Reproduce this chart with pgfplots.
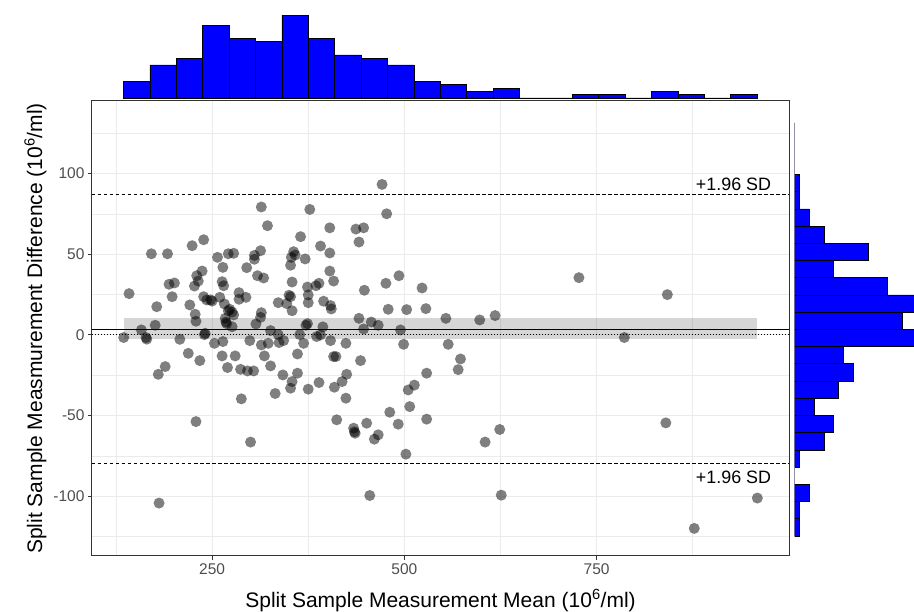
\documentclass[border=0pt]{standalone}
\usepackage{fontspec}
\setmainfont{Liberation Sans}
\usepackage{pgfplots}
\pgfplotsset{compat=1.18}
\definecolor{gridc}{HTML}{EBEBEB}
\definecolor{borderc}{HTML}{333333}
\definecolor{tickc}{HTML}{4D4D4D}

\pgfplotstableread{
x y
471 93.3
477 75.1
314 79.3
377 77.8
322 67.7
403 66.4
437 65.6
447 66.4
441 57.6
365 60.9
239 59
224 55.3
391 55.1
171 50.3
192 50.3
257 48.1
271 50.3
278 50.6
305 49.3
305 46.9
313 52.2
356 51.6
358 49.5
353 48.1
371 47.1
403 50.8
352 43.2
264 41.9
295 41.7
309 36.7
317 35.3
237 39.6
230 36.7
403 39.6
408 33.4
493 36.7
476 32
523 29.1
448 27.7
389 32
385 30.5
374 29.7
354 32.8
263 33
265 30.5
232 33.4
227 30.3
194 31.4
201 32.2
142 25.6
198 23.7
239 23.7
243 21.7
248 21.7
260 23.3
285 26.2
285 22.1
294 23.3
266 19.2
273 15.9
276 14.2
278 12.4
221 18.6
228 12.8
229 8.5
178 17.5
176 6
158 3.1
164 -1.6
165 -2.6
135 -1.6
208 -2.7
240 0.2
241 1
267 10.3
268 8
276 5.1
307 6.8
314 13.8
313 10.9
336 20
347 19.4
352 23.7
350 24.6
354 15
375 24.8
375 20
395 20.9
404 18.2
405 16.1
372 6
374 7
326 2.7
336 0.2
364 0.2
386 -1
391 0
394 5
441 10.3
457 8
466 6
447 3.7
495 3.1
479 15.9
503 15.7
528 16.3
271 15
269 7
250 21
234 -15.9
219 -11.4
189 -19.6
180 -24.4
229 -53.7
181 -104.2
253 -5.2
264 -4.1
263 -13
280 -13
270 -20.2
287 -21.3
296 -22.3
304 -22.3
288 -39.6
300 -66.4
299 -3.5
314 -6.2
323 -5.2
337 -4.7
343 -3.5
318 -13
326 -19.2
342 -24.8
361 -23.7
354 -28.9
352 -33
332 -36.3
375 -33.6
389 -29.5
361 -11.8
369 -5.2
404 -3.5
408 -13.4
411 -13.4
424 -5.2
425 -24.4
419 -28.9
409 -32.4
424 -39.2
443 -15.9
412 -52.6
434 -57.8
436 -60.9
435 -60
451 -54.7
461 -64.6
466 -61.9
455 -99.5
481 -47.9
492 -55.3
502 -73.9
507 -44.4
505 -34.1
513 -31.1
529 -23.7
529 -52.2
499 -5.8
554 10.3
557 -5.8
598 9.3
618 12
727 35.5
786 -1.6
842 25
573 -14.9
570 -21.5
605 -66.4
624 -58.6
626 -99.3
840 -54.5
877 -119.9
959 -101.1
}\pts

\pgfplotstableread{
x c
134.8 5
169.1 10
203.5 12
237.8 22
272.1 18
306.5 17
340.8 25
375.1 18
409.4 13
443.8 12
478.1 10
512.4 5
546.8 4
581.1 2
615.4 3
649.8 0
684.1 0
718.4 1
752.7 1
787.1 0
821.4 2
855.7 1
890.1 0
924.4 1
958.7 0
}\tophist

\pgfplotstableread{
c y
1 -124.5
1 -113.83
3 -103.17
0 -92.5
1 -81.83
6 -71.17
8 -60.5
4 -49.83
9 -39.17
12 -28.5
10 -17.83
26 -7.17
22 3.5
26 14.17
19 24.83
8 35.5
15 46.17
6 56.83
3 67.5
1 78.17
1 88.83
0 99.5
0 110.17
0 120.83
0 131.5
}\righthist

\begin{document}
\begin{tikzpicture}[x=1pt,y=1pt]
\useasboundingbox (0,0) rectangle (914,612);
\begin{axis}[
  at={(92pt,56pt)}, anchor=south west, scale only axis,
  width=697pt, height=455pt,
  xmin=93.8, xmax=1000.2, ymin=-137, ymax=145,
  xtick={250,500,750}, ytick={-100,-50,0,50,100},
  minor xtick={125,375,625,875}, minor ytick={-125,-75,-25,25,75,125},
  grid=both,
  major grid style={gridc, line width=1.07pt},
  minor grid style={gridc, line width=0.53pt},
  tick pos=left, tick align=outside,
  major tick length=4pt, minor tick length=0pt,
  tick style={borderc, line width=1pt},
  axis line style={borderc, line width=1pt},
  ticklabel style={font=\fontsize{15.5}{18}\selectfont, text=tickc},
  label style={font=\fontsize{21}{25}\selectfont},
  xlabel style={yshift=-8pt},
  ylabel style={yshift=0pt},
  xlabel={Split Sample Measurement Mean (10\textsuperscript{6}/ml)},
  ylabel={Split Sample Measmurement Difference (10\textsuperscript{6}/ml)},
  /pgf/number format/assume math mode=true,
]
\addplot[draw=none, fill=black, fill opacity=0.16] coordinates {(134.8,-2.7) (958.7,-2.7) (958.7,10.3) (134.8,10.3)} -- cycle;
\addplot[black, line width=0.9pt] coordinates {(93.8,3.5) (1000.2,3.5)};
\addplot[black, line width=0.9pt, dash pattern=on 1pt off 2pt] coordinates {(93.8,0) (1000.2,0)};
\addplot[black, line width=0.9pt, dash pattern=on 3.5pt off 2.5pt] coordinates {(93.8,86.9) (1000.2,86.9)};
\addplot[black, line width=0.9pt, dash pattern=on 3.5pt off 2.5pt] coordinates {(93.8,-79.9) (1000.2,-79.9)};
\addplot[only marks, mark=*, mark size=5.5pt, mark options={fill=black, fill opacity=0.5, draw opacity=0}] table[x=x, y=y] {\pts};
\node[font=\fontsize{17.9}{21}\selectfont] at (axis cs:928,93.6) {+1.96 SD};
\node[font=\fontsize{17.9}{21}\selectfont] at (axis cs:928,-88) {+1.96 SD};
\end{axis}

\begin{axis}[
  at={(92pt,514pt)}, anchor=south west, scale only axis,
  width=697pt, height=98pt,
  xmin=93.8, xmax=1000.2, ymin=0, ymax=29.6,
  hide axis, clip=false,
]
\addplot[ybar interval, fill=blue, draw=black, line width=0.5pt] table[x=x, y=c] {\tophist};
\end{axis}

\begin{axis}[
  at={(794.7pt,56pt)}, anchor=south west, scale only axis,
  width=119.3pt, height=455pt,
  xmin=0, xmax=24.45, ymin=-137, ymax=145,
  hide axis,
]
\addplot[xbar interval, fill=blue, draw=black, line width=0.5pt] table[x=c, y=y] {\righthist};
\end{axis}
\end{tikzpicture}
\end{document}
